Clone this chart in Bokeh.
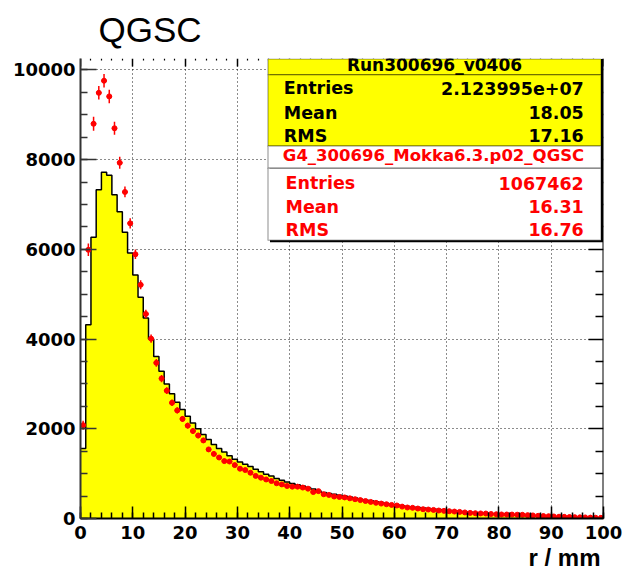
import numpy as np
from bokeh.plotting import figure
from bokeh.models import (Range1d, SingleIntervalTicker, FixedTicker, LinearAxis, Label,
                          BoxAnnotation, Title)
from bokeh.embed import file_html
from bokeh.resources import INLINE

# ---------------- data ----------------
title_text = "QGSC"
x_title = "r / mm"
r_low = list(range(0, 100))          # lower bin edges (mm)
bin_width = 1.0

x_major_ticks = [0, 10, 20, 30, 40, 50, 60, 70, 80, 90, 100]
x_minor_ticks = [v for v in range(0, 101, 2) if v % 10 != 0]
y_major_ticks = [0, 2000, 4000, 6000, 8000, 10000]
y_minor_ticks = [v for v in range(0, 10001, 500) if v % 2000 != 0]

# simulation histogram (yellow)
mc_counts = [
    1560, 4320, 6270, 7330, 7720, 7650, 7220, 6840, 6380, 5920,
    5430, 4930, 4470, 4000, 3610, 3280, 3000, 2780, 2590, 2430,
    2280, 2130, 2000, 1870, 1760, 1650, 1560, 1480, 1400, 1320,
    1260, 1210, 1160, 1100, 1040, 985, 945, 890, 850, 815,
    780, 750, 725, 690, 655, 615, 580, 560, 540, 520,
    500, 480, 455, 430, 410, 395, 375, 355, 335, 315,
    300, 285, 270, 258, 245, 232, 222, 210, 200, 190,
    180, 170, 160, 150, 140, 130, 122, 115, 108, 100,
    93, 87, 80, 74, 68, 63, 58, 53, 48, 44,
    40, 36, 33, 30, 27, 24, 22, 20, 18, 16,
]

# data points (red)
data_counts = [
    2080, 5990, 8800, 9490, 9760, 9410, 8700, 7930, 7280, 6580,
    5890, 5210, 4560, 4010, 3470, 3120, 2850, 2580, 2410, 2220,
    2070, 1950, 1850, 1740, 1540, 1440, 1360, 1280, 1270, 1190,
    1110, 1080, 1020, 950, 910, 870, 835, 785, 760, 725,
    710, 710, 690, 665, 590, 610, 540, 525, 490, 480,
    470, 450, 430, 410, 390, 370, 350, 333, 318, 303,
    290, 265, 245, 238, 222, 207, 200, 191, 178, 170,
    162, 155, 147, 135, 125, 118, 113, 111, 100, 95,
    90, 89, 88, 85, 82, 75, 68, 60, 55, 51,
    45, 40, 37, 33, 29, 26, 24, 20, 17, 15,
]
data_err = [
    100, 140, 155, 150, 150, 150, 145, 135, 120, 115,
    105, 100, 95, 90, 85, 80, 75, 72, 70, 67,
    65, 62, 60, 58, 55, 53, 52, 50, 50, 48,
    47, 46, 45, 44, 43, 42, 41, 40, 40, 39,
    38, 38, 37, 36, 35, 35, 34, 33, 32, 32,
    31, 31, 30, 30, 29, 28, 28, 27, 27, 26,
    26, 25, 25, 24, 24, 23, 23, 22, 22, 21,
    21, 20, 20, 19, 19, 18, 18, 17, 17, 16,
    16, 16, 15, 15, 15, 14, 14, 13, 13, 12,
    12, 12, 11, 11, 10, 10, 10, 9, 9, 8,
]

box1_title = "Run300696_v0406"
box1_rows = [("Entries", "2.123995e+07"), ("Mean", "18.05"), ("RMS", "17.16")]
box2_title = "G4_300696_Mokka6.3.p02_QGSC"
box2_rows = [("Entries", "1067462"), ("Mean", "16.31"), ("RMS", "16.76")]

# ---------------- figure ----------------
Y_END = 10255.0
p = figure(width=624, height=570, x_range=Range1d(0, 100), y_range=Range1d(0, Y_END),
           output_backend="svg", toolbar_location=None,
           min_border_left=80, min_border_right=21, min_border_top=58, min_border_bottom=50)
p.outline_line_color = None
p.background_fill_color = "white"
p.border_fill_color = "white"

p.title.text = title_text
p.title.text_font = "Liberation Sans"
p.title.text_font_size = "35px"
p.title.text_font_style = "normal"
p.title.text_color = "black"
p.title.align = "left"
p.title.offset = 18
p.title.standoff = 0
try:
    p.title.padding = dict(left=0, right=0, top=0, bottom=10)
except Exception:
    pass


def X(rx):
    return (rx - 80.0) / 523.0 * 100.0


def Y(ry):
    return (520.0 - ry) / 462.0 * Y_END


def BY(ry):
    # label anchor for a text whose baseline should sit at pixel row ry
    return Y(ry - 6.0)


xt = SingleIntervalTicker(interval=10, num_minor_ticks=5)
yt = SingleIntervalTicker(interval=2000, num_minor_ticks=4)

for ax in p.xaxis:
    ax.ticker = xt
    ax.axis_line_color = "black"
    ax.axis_line_width = 2
    ax.major_tick_in = 12
    ax.major_tick_out = 0
    ax.minor_tick_in = 6
    ax.minor_tick_out = 0
    ax.major_tick_line_color = "black"
    ax.minor_tick_line_color = "black"
    ax.major_tick_line_width = 1.5
    ax.minor_tick_line_width = 1.5
    ax.major_label_standoff = 7
    ax.major_label_text_font = "DejaVu Sans"
    ax.major_label_text_font_style = "bold"
    ax.major_label_text_font_size = "18px"
    ax.major_label_text_color = "black"

for ax in p.yaxis:
    ax.ticker = yt
    ax.axis_line_color = "#333333"
    ax.axis_line_width = 2
    ax.major_tick_in = 16
    ax.major_tick_out = 0
    ax.minor_tick_in = 7
    ax.minor_tick_out = 0
    ax.major_tick_line_color = "#333333"
    ax.minor_tick_line_color = "#333333"
    ax.major_tick_line_width = 1.5
    ax.minor_tick_line_width = 1.5
    ax.major_label_standoff = 5
    ax.major_label_text_font = "DejaVu Sans"
    ax.major_label_text_font_style = "bold"
    ax.major_label_text_font_size = "18px"
    ax.major_label_text_color = "black"


# tick-only axes on top and right (no labels)
def tick_axis(ticks, t_in, t_out, loc, line_color=None, line_width=1.5):
    return LinearAxis(ticker=FixedTicker(ticks=[], minor_ticks=ticks), fixed_location=loc,
                      axis_line_color=line_color, axis_line_width=2,
                      minor_tick_in=t_in, minor_tick_out=t_out, minor_tick_line_color="black",
                      minor_tick_line_width=line_width, major_tick_in=0, major_tick_out=0,
                      major_label_standoff=0)


p.add_layout(tick_axis(y_major_ticks, 15, 0, 100, line_color="black"), "right")
p.add_layout(tick_axis(y_minor_ticks, 8, 0, 100), "right")

# x-axis title, right aligned, below the axis
p.add_layout(Title(text=x_title, align="right", text_font="Liberation Sans",
                   text_font_style="bold", text_font_size="24px", text_color="black",
                   offset=3, standoff=0), "below")
p.add_layout(tick_axis(x_major_ticks, 0, 8, Y_END), "below")
p.add_layout(tick_axis(x_minor_ticks, 0, 2, Y_END, line_width=1.2), "below")

for g in p.xgrid:
    g.ticker = xt
for g in p.ygrid:
    g.ticker = yt
p.grid.grid_line_color = "black"
p.grid.grid_line_dash = "1 3"
p.grid.grid_line_width = 1
p.grid.grid_line_alpha = 0.9

# ---------------- histogram ----------------
r_low_a = np.array(r_low, dtype=float)
r_high_a = r_low_a + bin_width
r_mid_a = r_low_a + bin_width / 2
edges = list(r_low_a) + [r_high_a[-1]]
mc_ext = list(mc_counts) + [mc_counts[-1]]

p.varea_step(x=edges, y1=[0] * len(edges), y2=mc_ext, step_mode="after",
             fill_color="#FFFF00")
p.step(x=edges, y=mc_ext, mode="after", line_color="black", line_width=1.5)

# ---------------- data points ----------------
dc = np.array(data_counts, dtype=float)
de = np.array(data_err, dtype=float)
p.segment(x0=r_mid_a, y0=dc - de, x1=r_mid_a, y1=dc + de, line_color="#FF0000", line_width=1.5)
p.segment(x0=r_low_a, y0=dc, x1=r_high_a, y1=dc, line_color="#FF0000", line_width=1.5)
p.scatter(x=r_mid_a, y=dc, size=5, marker="circle", fill_color="#FF0000", line_color="#FF0000")

# ---------------- stats boxes ----------------
BL, BR = 267.5, 600.5
TOP = 58.5
p.add_layout(BoxAnnotation(left=X(BL + 2), right=X(BR + 2), top=Y(TOP), bottom=Y(242.5),
                           fill_color="black", fill_alpha=1, line_color=None))
p.add_layout(BoxAnnotation(left=X(BL), right=X(BR), top=Y(TOP), bottom=Y(74.3),
                           fill_color="#FFFF00", fill_alpha=1, line_color="black", line_width=1.5))
p.add_layout(BoxAnnotation(left=X(BL), right=X(BR), top=Y(74.3), bottom=Y(146),
                           fill_color="#FFFF00", fill_alpha=1, line_color="black", line_width=1.5))
p.add_layout(BoxAnnotation(left=X(BL), right=X(BR), top=Y(146), bottom=Y(168.3),
                           fill_color="white", fill_alpha=1, line_color="black", line_width=1.5))
p.add_layout(BoxAnnotation(left=X(BL), right=X(BR), top=Y(168.3), bottom=Y(240.5),
                           fill_color="white", fill_alpha=1, line_color="black", line_width=1.5))

p.add_layout(Label(x=X(434), y=BY(71.0), text=box1_title, text_align="center",
                   text_baseline="alphabetic", text_font="DejaVu Sans", text_font_style="bold",
                   text_font_size="17px", text_color="black"))
for (name, val), by in zip(box1_rows, [94.0, 118.3, 141.7]):
    p.add_layout(Label(x=X(283.3), y=BY(by), text=name, text_align="left",
                       text_baseline="alphabetic", text_font="DejaVu Sans", text_font_style="bold",
                       text_font_size="17.5px", text_color="black"))
    p.add_layout(Label(x=X(583.3), y=BY(by), text=val, text_align="right",
                       text_baseline="alphabetic", text_font="DejaVu Sans", text_font_style="bold",
                       text_font_size="17.5px", text_color="black"))

p.add_layout(Label(x=X(433), y=BY(161.5), text=box2_title, text_align="center",
                   text_baseline="alphabetic", text_font="DejaVu Sans", text_font_style="bold",
                   text_font_size="16.5px", text_color="#FF0000"))
for (name, val), by in zip(box2_rows, [189.3, 212.7, 236.0]):
    p.add_layout(Label(x=X(285), y=BY(by), text=name, text_align="left",
                       text_baseline="alphabetic", text_font="DejaVu Sans", text_font_style="bold",
                       text_font_size="17.5px", text_color="#FF0000"))
    p.add_layout(Label(x=X(583.3), y=BY(by), text=val, text_align="right",
                       text_baseline="alphabetic", text_font="DejaVu Sans", text_font_style="bold",
                       text_font_size="17.5px", text_color="#FF0000"))

open("out.html", "w").write(file_html(p, INLINE))
